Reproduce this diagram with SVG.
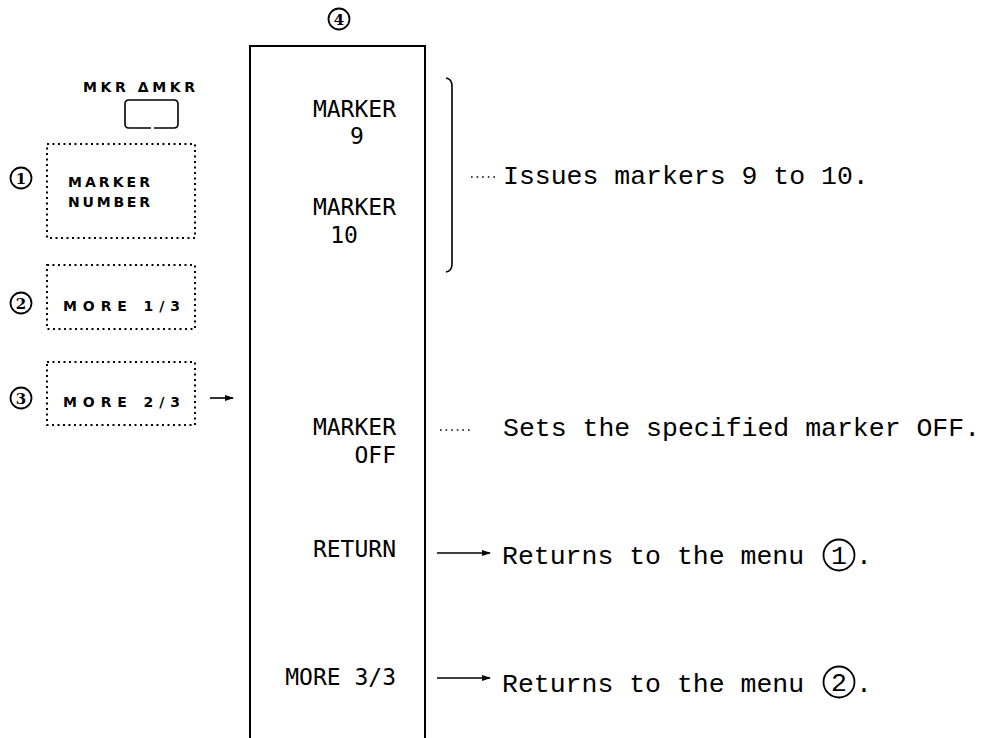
<svg xmlns="http://www.w3.org/2000/svg" width="981" height="738" viewBox="0 0 981 738">
<defs>
<style>
.big{font-family:"DejaVu Sans Mono",monospace;font-size:23px;fill:#000;text-anchor:end}
.bigc{font-family:"DejaVu Sans Mono",monospace;font-size:23px;fill:#000;text-anchor:middle}
.desc{font-family:"Liberation Mono",monospace;font-size:26.5px;fill:#000}
.small{font-family:"DejaVu Sans",sans-serif;font-weight:bold;font-size:14px;fill:#000}
.dotbox{fill:none;stroke:#000;stroke-width:2;stroke-dasharray:2 3.5}
.circ{fill:none;stroke:#000;stroke-width:1.8}
.cnum{font-family:"DejaVu Serif",serif;font-weight:bold;font-size:15px;fill:#000;text-anchor:middle}
.line{fill:none;stroke:#000;stroke-width:1.6}
.leader{fill:none;stroke:#000;stroke-width:1.6;stroke-dasharray:1.6 4}
</style>
<marker id="arr" markerWidth="9" markerHeight="6" refX="8" refY="3" orient="auto" markerUnits="userSpaceOnUse">
<path d="M0,0 L9,3 L0,6 z" fill="#000"/>
</marker>
</defs>
<rect width="981" height="738" fill="#fff"/>

<g id="key">
<text class="small" x="83" y="92" textLength="112" lengthAdjust="spacing">MKR ΔMKR</text>
<path d="M151,128 H129 Q125,128 125,124 V104 Q125,100 129,100 H174 Q178,100 178,104 V124 Q178,128 174,128 H154" class="line" stroke-width="2"/>
</g>

<g id="menu1">
<circle class="circ" cx="21" cy="178" r="10.5"/>
<text class="cnum" x="21" y="183.5">1</text>
<rect class="dotbox" x="47" y="144" width="148" height="94"/>
<text class="small" x="68" y="187" textLength="82" lengthAdjust="spacing">MARKER</text>
<text class="small" x="68" y="207" textLength="82" lengthAdjust="spacing">NUMBER</text>
</g>

<g id="menu2">
<circle class="circ" cx="21" cy="303" r="10.5"/>
<text class="cnum" x="21" y="308.5">2</text>
<rect class="dotbox" x="47" y="265" width="148" height="64"/>
<text class="small" x="63" y="311" textLength="117" lengthAdjust="spacing">MORE 1/3</text>
</g>

<g id="menu3">
<circle class="circ" cx="21" cy="398" r="10.5"/>
<text class="cnum" x="21" y="403.5">3</text>
<rect class="dotbox" x="47" y="362" width="148" height="63"/>
<text class="small" x="63" y="407" textLength="117" lengthAdjust="spacing">MORE 2/3</text>
</g>

<g id="menu4">
<circle class="circ" cx="339" cy="19" r="10.5"/>
<text class="cnum" x="339" y="24.5">4</text>
<path d="M250,738 V46 H425 V738" fill="none" stroke="#000" stroke-width="2"/>
<text class="big" x="396" y="117">MARKER</text>
<text class="bigc" x="357" y="144">9</text>
<text class="big" x="396" y="215">MARKER</text>
<text class="bigc" x="344" y="243">10</text>
<text class="big" x="396" y="435">MARKER</text>
<text class="big" x="396" y="463">OFF</text>
<text class="big" x="396" y="557">RETURN</text>
<text class="big" x="396" y="685">MORE 3/3</text>
</g>

<g id="notes">
<text class="desc" x="503" y="184">Issues markers 9 to 10.</text>
<text class="desc" x="503" y="436">Sets the specified marker OFF.</text>
<text class="desc" x="502" y="564">Returns to the menu</text>
<circle class="circ" cx="839" cy="555" r="15.5" stroke-width="1.6"/>
<text class="desc" x="839" y="564" text-anchor="middle">1</text>
<text class="desc" x="856" y="564">.</text>
<text class="desc" x="502" y="692">Returns to the menu</text>
<circle class="circ" cx="839" cy="682" r="15.5" stroke-width="1.6"/>
<text class="desc" x="839" y="691" text-anchor="middle">2</text>
<text class="desc" x="856" y="692">.</text>
</g>

<g id="connectors">
<path class="line" stroke-width="2" d="M446,78 Q452,79 452,86 V264 Q452,271 446,272"/>
<line class="leader" x1="471" y1="177" x2="499" y2="177"/>
<line class="leader" x1="440" y1="430" x2="473" y2="430"/>
<line class="line" x1="210" y1="398" x2="233" y2="398" marker-end="url(#arr)"/>
<line class="line" x1="437" y1="553" x2="490" y2="553" marker-end="url(#arr)"/>
<line class="line" x1="437" y1="678" x2="490" y2="678" marker-end="url(#arr)"/>
</g>
</svg>
